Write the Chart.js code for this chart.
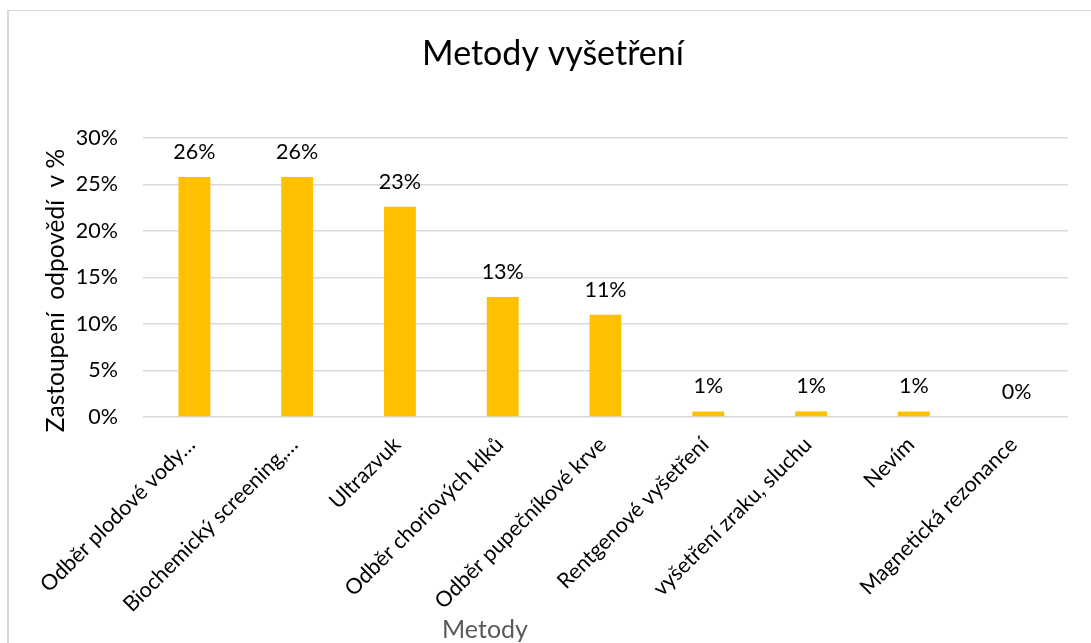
<!DOCTYPE html>
<html lang="cs">
<head>
<meta charset="utf-8">
<title>Metody vyšetření</title>
<script src="https://cdn.jsdelivr.net/npm/chart.js@4/dist/chart.umd.min.js"></script>
<style>
  html, body { margin: 0; padding: 0; background: #fff; overflow: hidden; }
  .frame {
    position: absolute; left: 7px; top: 10px; width: 1100px; height: 650px;
    border-left: 2px solid #d9d9d9; border-top: 1.5px solid #d9d9d9;
  }
  .wrap { position: absolute; left: 0; top: 0; width: 1091px; height: 643px; }
</style>
</head>
<body>
<div class="frame"></div>
<div class="wrap"><canvas id="chart"></canvas></div>
<script>
const categories = [
  'Odběr plodové vody…',
  'Biochemický screening,…',
  'Ultrazvuk',
  'Odběr choriových klků',
  'Odběr pupečníkové krve',
  'Rentgenové vyšetření',
  'vyšetření zraku, sluchu',
  'Nevím',
  'Magnetická rezonance'
];
const shares = [25.8, 25.8, 22.6, 12.9, 11.0, 0.6, 0.6, 0.6, 0];
const yTickValues = [0, 5, 10, 15, 20, 25, 30];

const FONT = 'Lato, "Open Sans", sans-serif';
const BAR_COLOR = '#FFC000';
const GRID_COLOR = '#d9d9d9';

// value labels above each bar
const barLabels = {
  id: 'barLabels',
  afterDatasetsDraw(chart) {
    const ctx = chart.ctx;
    const meta = chart.getDatasetMeta(0);
    ctx.save();
    ctx.font = '21.5px ' + FONT;
    ctx.fillStyle = '#000';
    ctx.textAlign = 'center';
    ctx.textBaseline = 'middle';
    meta.data.forEach((bar, i) => {
      ctx.fillText(Math.round(shares[i]) + '%', bar.x, bar.y - 25);
    });
    ctx.restore();
  }
};

// chart title and axis captions, placed off-centre like the original sheet
const captions = {
  id: 'captions',
  afterDraw(chart) {
    const ctx = chart.ctx;
    const area = chart.chartArea;
    ctx.save();
    ctx.textAlign = 'center';
    ctx.textBaseline = 'middle';
    ctx.font = '34px ' + FONT;
    ctx.fillStyle = '#000';
    ctx.fillText('Metody vyšetření', 553, 54);

    ctx.font = '25px ' + FONT;
    ctx.fillStyle = '#595959';
    ctx.fillText('Metody', area.left + 342, 630);

    ctx.translate(64, (area.top + area.bottom) / 2 + 13);
    ctx.rotate(-Math.PI / 2);
    ctx.textBaseline = 'alphabetic';
    ctx.font = '24.5px ' + FONT;
    ctx.fillStyle = '#000';
    ctx.fillText('Zastoupení  odpovědí  v %', 0, 0);
    ctx.restore();
  }
};

new Chart(document.getElementById('chart'), {
  type: 'bar',
  data: {
    labels: categories,
    datasets: [{
      data: shares,
      backgroundColor: BAR_COLOR,
      borderWidth: 0,
      categoryPercentage: 1,
      barPercentage: 0.31
    }]
  },
  options: {
    responsive: true,
    maintainAspectRatio: false,
    animation: false,
    layout: { padding: { left: 8, right: 23, top: 138, bottom: 0 } },
    plugins: {
      legend: { display: false },
      tooltip: { enabled: false },
      title: { display: false }
    },
    scales: {
      x: {
        grid: { display: false },
        border: { display: false },
        ticks: {
          color: '#000',
          font: { family: FONT, size: 21.5 },
          minRotation: 45,
          maxRotation: 45,
          autoSkip: false,
          padding: 7,
          labelOffset: -3
        },
        afterFit(scale) { scale.height = 643 - 417; }
      },
      y: {
        min: 0,
        max: 30,
        afterBuildTicks(scale) { scale.ticks = yTickValues.map(v => ({ value: v })); },
        grid: { color: GRID_COLOR, lineWidth: 1.5, drawTicks: false },
        border: { display: false },
        ticks: {
          color: '#000',
          font: { family: FONT, size: 21.5 },
          padding: 25,
          callback: v => v + '%'
        },
        afterFit(scale) { scale.width = 143 - 8; }
      }
    }
  },
  plugins: [barLabels, captions]
});
</script>
</body>
</html>
